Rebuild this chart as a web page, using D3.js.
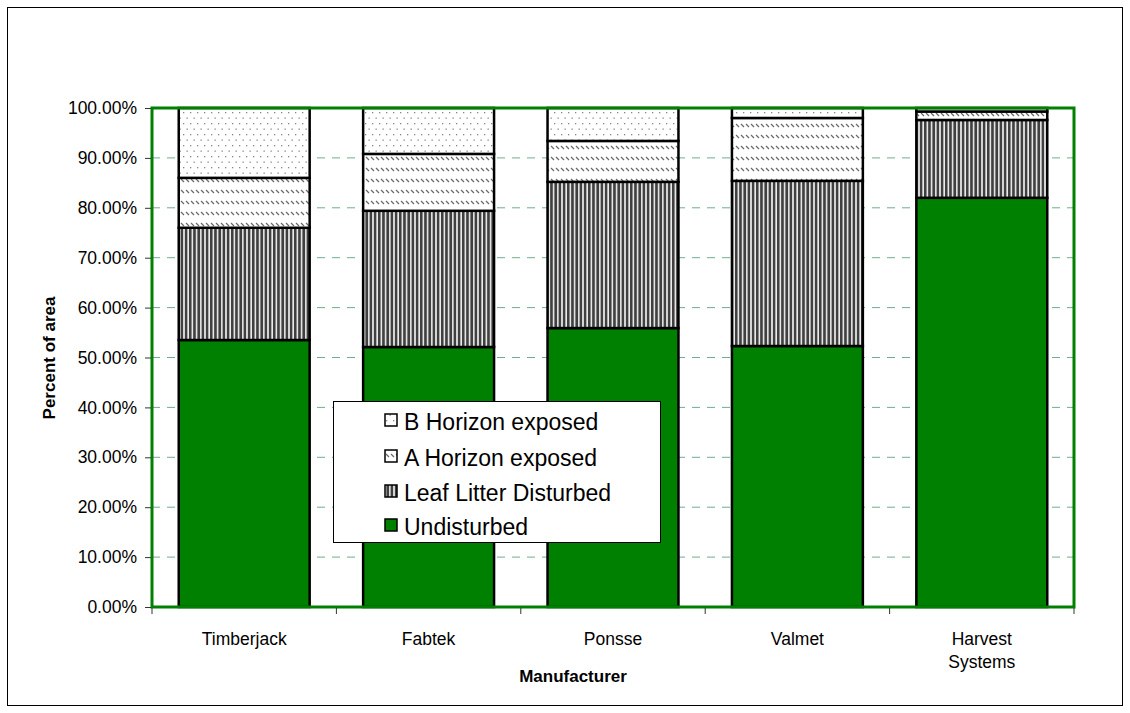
<!DOCTYPE html>
<html>
<head>
<meta charset="utf-8">
<script src="https://cdn.jsdelivr.net/npm/d3@7"></script>
<style>
  html, body { margin: 0; padding: 0; background: #fff; }
  svg { display: block; }
  text { font-family: "Liberation Sans", Arial, sans-serif; fill: #000; }
</style>
</head>
<body>
<svg id="chart" width="1130" height="713"></svg>
<script>
// ---- data ----
const categories = ["Timberjack", "Fabtek", "Ponsse", "Valmet", "Harvest Systems"];
const undisturbed = [53.5, 52.1, 55.9, 52.3, 82.0];
const leafLitter  = [22.5, 27.3, 29.3, 33.1, 15.6];
const aHorizon    = [10.0, 11.4, 8.2, 12.6, 1.7];
const bHorizon    = [14.0, 9.2, 6.6, 2.0, 0.7];
const seriesNames = ["Undisturbed", "Leaf Litter Disturbed", "A Horizon exposed", "B Horizon exposed"];
const yTicks = [0, 10, 20, 30, 40, 50, 60, 70, 80, 90, 100];

const svg = d3.select("#chart");
const plot = { left: 152, right: 1074, top: 108, bottom: 607 };

// outer frame
svg.append("rect").attr("x", 7.5).attr("y", 7.5).attr("width", 1115).attr("height", 698)
  .attr("fill", "none").attr("stroke", "#000").attr("stroke-width", 1);

// patterns
const defs = svg.append("defs");
const pB = defs.append("pattern").attr("id", "patB").attr("patternUnits", "userSpaceOnUse")
  .attr("width", 7).attr("height", 11);
pB.append("rect").attr("width", 7).attr("height", 11).attr("fill", "#fff");
pB.append("rect").attr("x", 1).attr("y", 2).attr("width", 1.3).attr("height", 1.3).attr("fill", "#888");
pB.append("rect").attr("x", 4.5).attr("y", 7.5).attr("width", 1.3).attr("height", 1.3).attr("fill", "#888");

const pA = defs.append("pattern").attr("id", "patA").attr("patternUnits", "userSpaceOnUse")
  .attr("width", 5).attr("height", 11);
pA.append("rect").attr("width", 5).attr("height", 11).attr("fill", "#fff");
pA.append("line").attr("x1", 1).attr("y1", 3).attr("x2", 4).attr("y2", 6)
  .attr("stroke", "#6a6a6a").attr("stroke-width", 1.3);

const pL = defs.append("pattern").attr("id", "patL").attr("patternUnits", "userSpaceOnUse")
  .attr("width", 4.2).attr("height", 4);
pL.append("rect").attr("width", 4.2).attr("height", 4).attr("fill", "#ececec");
pL.append("rect").attr("x", 0).attr("width", 2.6).attr("height", 4).attr("fill", "#404040");

const fills = ["#008000", "url(#patL)", "url(#patA)", "url(#patB)"];

// scales
const x = d3.scaleBand().domain(categories).range([plot.left, plot.right]).paddingInner(0.29).paddingOuter(0.145);
const xEdges = d3.scaleBand().domain(categories).range([plot.left, plot.right]).padding(0);
const y = d3.scaleLinear().domain([0, 100]).range([plot.bottom, plot.top]);

// gridlines
svg.append("g").selectAll("line").data(yTicks.filter(d => d > 0 && d < 100)).join("line")
  .attr("x1", plot.left).attr("x2", plot.right)
  .attr("y1", d => y(d)).attr("y2", d => y(d))
  .attr("stroke", "#6fae8c").attr("stroke-width", 1).attr("stroke-dasharray", "8,7");

// stacked data
const rows = categories.map((c, i) => ({
  cat: c,
  "Undisturbed": undisturbed[i],
  "Leaf Litter Disturbed": leafLitter[i],
  "A Horizon exposed": aHorizon[i],
  "B Horizon exposed": bHorizon[i]
}));
const stack = d3.stack().keys(seriesNames)(rows);

const gBars = svg.append("g");
stack.forEach((layer, li) => {
  gBars.append("g").selectAll("rect").data(layer).join("rect")
    .attr("x", d => x(d.data.cat))
    .attr("width", x.bandwidth())
    .attr("y", d => y(d[1]))
    .attr("height", d => y(d[0]) - y(d[1]))
    .attr("fill", fills[li])
    .attr("stroke", "#000").attr("stroke-width", 2.5);
});

// plot border (green)
svg.append("rect").attr("x", plot.left).attr("y", plot.top)
  .attr("width", plot.right - plot.left).attr("height", plot.bottom - plot.top)
  .attr("fill", "none").attr("stroke", "#008000").attr("stroke-width", 3);

// y axis
const yAxis = d3.axisLeft(y).tickValues(yTicks).tickSize(6).tickPadding(8)
  .tickFormat(d => d3.format(".2f")(d) + "%");
const gy = svg.append("g").attr("transform", `translate(${plot.left - 1},0)`).call(yAxis);
gy.select(".domain").remove();
gy.selectAll(".tick line").attr("stroke", "#333");
gy.selectAll("text").attr("font-size", 17.5).attr("font-family", "Liberation Sans, Arial, sans-serif").attr("fill", "#000");

// x axis ticks at category boundaries
const bounds = categories.map(c => xEdges(c)).concat([plot.right]);
svg.append("g").selectAll("line").data(bounds).join("line")
  .attr("x1", d => d).attr("x2", d => d)
  .attr("y1", plot.bottom + 1).attr("y2", plot.bottom + 7)
  .attr("stroke", "#333").attr("stroke-width", 1);

// x labels
const gx = svg.append("g");
categories.forEach(c => {
  const cx = xEdges(c) + xEdges.bandwidth() / 2;
  const words = c === "Harvest Systems" ? ["Harvest", "Systems"] : [c];
  words.forEach((w, k) => {
    gx.append("text").attr("x", cx).attr("y", 645 + k * 23)
      .attr("text-anchor", "middle").attr("font-size", 17.5).text(w);
  });
});

// axis titles
svg.append("text").attr("x", 573).attr("y", 682).attr("text-anchor", "middle")
  .attr("font-size", 17).attr("font-weight", "bold").text("Manufacturer");
svg.append("text").attr("transform", "translate(55,358) rotate(-90)").attr("text-anchor", "middle")
  .attr("font-size", 17).attr("font-weight", "bold").text("Percent of area");

// legend
const lg = svg.append("g");
lg.append("rect").attr("x", 333.5).attr("y", 401.5).attr("width", 327).attr("height", 141)
  .attr("fill", "#fff").attr("stroke", "#000").attr("stroke-width", 1);
const legendOrder = ["B Horizon exposed", "A Horizon exposed", "Leaf Litter Disturbed", "Undisturbed"];
const legendY = [422, 458, 493, 527];
legendOrder.forEach((name, i) => {
  const fi = seriesNames.indexOf(name);
  lg.append("rect").attr("x", 385).attr("y", legendY[i] - 8).attr("width", 12).attr("height", 12)
    .attr("fill", fills[fi]).attr("stroke", "#000").attr("stroke-width", 1.5);
  lg.append("text").attr("x", 404).attr("y", legendY[i] + 8)
    .attr("font-size", 23).text(name);
});
</script>
</body>
</html>
